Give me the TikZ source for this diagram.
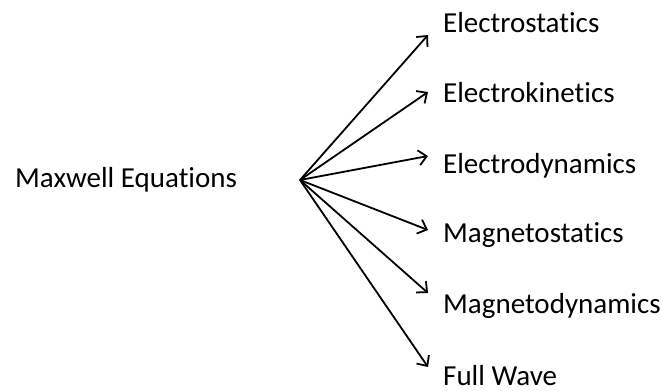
\documentclass[tikz,border=0pt]{standalone}
\usepackage{fontspec}
\setmainfont{Carlito}[Ligatures={NoCommon,NoRare}]
\usetikzlibrary{arrows.meta, positioning}
\tikzset{
  topic/.style={anchor=base west, inner sep=0pt, font=\fontsize{29}{34}\selectfont},
  link/.style={-{Straight Barb[length=8pt,width=15pt,line width=1.8pt]}, line width=1.8pt, draw=black},
}

\begin{document}
\begin{tikzpicture}[x=1pt, y=-1pt]
  \useasboundingbox (0,0) rectangle (662,391);

  % source on the left, fan point next to it
  \node[topic] (maxwell) at (15,187) {Maxwell Equations};
  \coordinate (hub) at (300,180);

  % six branches on the right
  \node[topic] (estat) at (443,32)  {Electrostatics};
  \node[topic] (ekin)  at (443,102) {Electrokinetics};
  \node[topic] (edyn)  at (443,173) {Electrodynamics};
  \node[topic] (mstat) at (443,242) {Magnetostatics};
  \node[topic] (mdyn)  at (443,313) {Magnetodynamics};
  \node[topic] (full)  at (443,385) {Full Wave};

  % arrow tips
  \coordinate (testat) at (428,35);
  \coordinate (tekin)  at (428,92);
  \coordinate (tedyn)  at (428,156);
  \coordinate (tmstat) at (428,230);
  \coordinate (tmdyn)  at (428,293);
  \coordinate (tfull)  at (428,367);

  \foreach \t in {testat, tekin, tedyn, tmstat, tmdyn, tfull}
    \draw[link] (hub) -- (\t);

\end{tikzpicture}
\end{document}
